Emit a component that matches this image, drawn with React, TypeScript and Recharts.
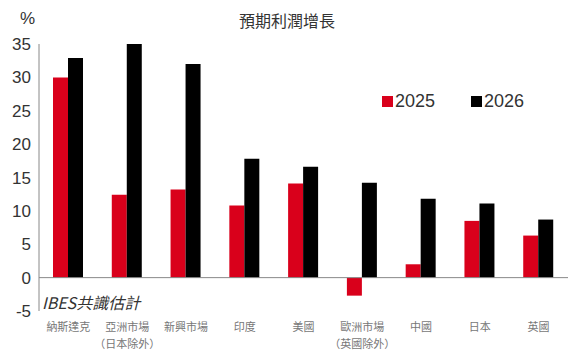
import { BarChart, Bar, XAxis, YAxis, ReferenceLine } from 'recharts'

// 預期利潤增長 — IBES 共識估計
const categories = ['納斯達克', '亞洲市場\n（日本除外）', '新興市場', '印度', '美國', '歐洲市場\n（英國除外）', '中國', '日本', '英國']
const growth2025 = [30, 12.4, 13.2, 10.8, 14.1, -2.7, 2.0, 8.5, 6.3]
const growth2026 = [32.9, 35, 32, 17.8, 16.6, 14.2, 11.8, 11.1, 8.7]
const yTicks = [-5, 0, 5, 10, 15, 20, 25, 30, 35]

const RED = '#d9001b'
const FONT = '"Liberation Sans", "Noto Sans CJK TC", sans-serif'

const data = categories.map((c, i) => ({ name: c, y2025: growth2025[i], y2026: growth2026[i] }))

function CatTick(props: any) {
  const { x, payload } = props
  const lines = String(payload.value).split('\n')
  return (
    <g>
      {lines.map((l, i) => (
        <text key={i} x={x} y={331 + i * 17} textAnchor="middle" fontSize={11} fill="#777" fontFamily='"Noto Sans CJK TC", sans-serif'>
          {l}
        </text>
      ))}
    </g>
  )
}

function LegendBox() {
  const items = [
    { label: '2025', color: RED },
    { label: '2026', color: '#000' },
  ]
  return (
    <div style={{ display: 'flex', gap: 36, fontFamily: FONT, fontSize: 18, color: '#333' }}>
      {items.map((it) => (
        <div key={it.label} style={{ display: 'flex', alignItems: 'center' }}>
          <span style={{ display: 'inline-block', width: 11, height: 11, background: it.color, marginRight: 2 }} />
          <span>{it.label}</span>
        </div>
      ))}
    </div>
  )
}

export default function App() {
  return (
    <div style={{ position: 'absolute', left: 0, top: 0, width: 574, height: 352, background: '#fff' }}>
      <div style={{ position: 'absolute', left: 0, top: 8, width: 574, textAlign: 'center', fontFamily: '"Noto Sans CJK TC", sans-serif', fontSize: 16, color: '#333' }}>
        預期利潤增長
      </div>
      <div style={{ position: 'absolute', left: 20, top: 9, fontFamily: FONT, fontSize: 17, color: '#333' }}>%</div>
      <div style={{ position: 'absolute', left: 42, top: 290, fontFamily: '"Noto Sans CJK TC", sans-serif', fontStyle: 'italic', fontSize: 16, color: '#333', zIndex: 2 }}>
        IBES共識估計
      </div>
      <div style={{ position: 'absolute', left: 382, top: 91, zIndex: 2 }}>
        <LegendBox />
      </div>
      <BarChart width={574} height={352} data={data} margin={{ top: 44, right: 6, bottom: 1, left: 0 }} barGap={0} barSize={15}>
        <YAxis
          domain={[-5, 35]}
          ticks={yTicks}
          interval={0}
          width={39}
          tickLine={false}
          axisLine={{ stroke: '#888' }}
          tick={{ fontSize: 17, fill: '#333', fontFamily: FONT }}
        />
        <XAxis dataKey="name" height={40} axisLine={false} tickLine={false} interval={0} tick={<CatTick />} />
        <ReferenceLine y={0} stroke="#888" />
        <Bar dataKey="y2025" name="2025" fill={RED} isAnimationActive={false} />
        <Bar dataKey="y2026" name="2026" fill="#000" isAnimationActive={false} />
      </BarChart>
    </div>
  )
}
